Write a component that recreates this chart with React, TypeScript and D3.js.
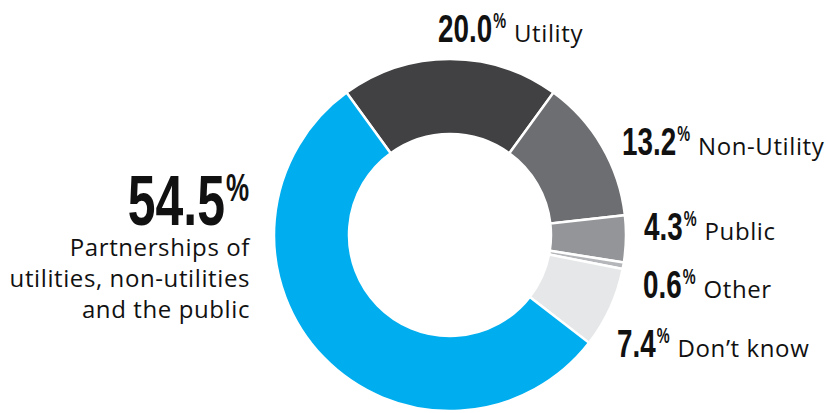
import React from "react";
import * as d3 from "d3";

const categories = ["Utility", "Non-Utility", "Public", "Other", "Don\u2019t know", "Partnerships"];
const values = [20.0, 13.2, 4.3, 0.6, 7.4, 54.5];
const valueLabels = ["20.0", "13.2", "4.3", "0.6", "7.4", "54.5"];
const colors = ["#414042", "#6d6e71", "#939598", "#b4b6b9", "#e6e7e8", "#00aeef"];
const bigLabelLines = ["Partnerships of", "utilities, non-utilities", "and the public"];

// layout (not data)
const W = 828, H = 413;
const CX = 450, CY = 235, R_OUT = 176, R_IN = 101;
const smallPos: [number, number][] = [
  [438, 42], [622, 155], [644, 240], [643, 298], [617, 357],
];
const NUM_FONT = "'Liberation Sans', Arial, sans-serif";
const TXT_FONT = "'Open Sans', 'Noto Sans', sans-serif";

function naturalWidth(s: string, size: number) {
  let em = 0;
  for (const c of s) em += c === "." ? 0.278 : c === "%" ? 0.889 : 0.556;
  return size * em;
}
function numWidth(s: string, size: number) {
  let em = 0;
  for (const c of s) em += c === "." ? 0.228 : 0.456;
  return size * em * 0.87;
}

function NumberLabel({ x, y, text, size, anchorEnd, name }: { x: number; y: number; text: string; size: number; anchorEnd?: number; name?: string }) {
  const nw = numWidth(text, size);
  const pSize = size * 0.55;
  const pw = pSize * 0.6;
  let x0 = x;
  if (anchorEnd !== undefined) x0 = anchorEnd - pw - 1 - nw;
  const cap = size * 0.716;
  const pBase = y - cap + pSize * 0.716 - 1;
  const sxN = nw / naturalWidth(text, size);
  const sxP = pw / naturalWidth("%", pSize);
  return (
    <g>
      <text transform={`translate(${x0},${y}) scale(${sxN},1)`} fontFamily={NUM_FONT} fontWeight={700}
        fontSize={size} fill="#111">{text}</text>
      <text transform={`translate(${x0 + nw + 1},${pBase}) scale(${sxP},1)`} fontFamily={NUM_FONT}
        fontWeight={700} fontSize={pSize} fill="#111">%</text>
      {name ? (
        <text x={x0 + nw + 1 + pw + 8} y={y} fontFamily={TXT_FONT} fontWeight={400} fontSize={24}
          letterSpacing={0.6} fill="#111">{name}</text>
      ) : null}
    </g>
  );
}

export default function App() {
  const pie = d3.pie<number>().sort(null).value((d) => d)
    .startAngle(-0.2 * Math.PI).endAngle(1.8 * Math.PI);
  const arcs = pie(values);
  const arc = d3.arc<d3.PieArcDatum<number>>().innerRadius(R_IN).outerRadius(R_OUT);

  return (
    <svg width={W} height={H} style={{ position: "absolute", left: 0, top: 0, background: "#fff" }}>
      <g transform={`translate(${CX},${CY})`}>
        {arcs.map((a, i) => (
          <path key={i} d={arc(a) || ""} fill={colors[i]} stroke="#fff" strokeWidth={2.5} strokeLinejoin="miter" />
        ))}
      </g>
      {smallPos.map(([x, y], i) => (
        <NumberLabel key={i} x={x} y={y} text={valueLabels[i]} size={39} name={categories[i]} />
      ))}
      <NumberLabel x={0} y={225} text={valueLabels[5]} size={70} anchorEnd={249} />
      {bigLabelLines.map((t, i) => (
        <text key={i} x={250} y={256 + i * 31} textAnchor="end" fontFamily={TXT_FONT} fontSize={24}
          letterSpacing={0.6} fill="#111">
          {t}
        </text>
      ))}
    </svg>
  );
}
